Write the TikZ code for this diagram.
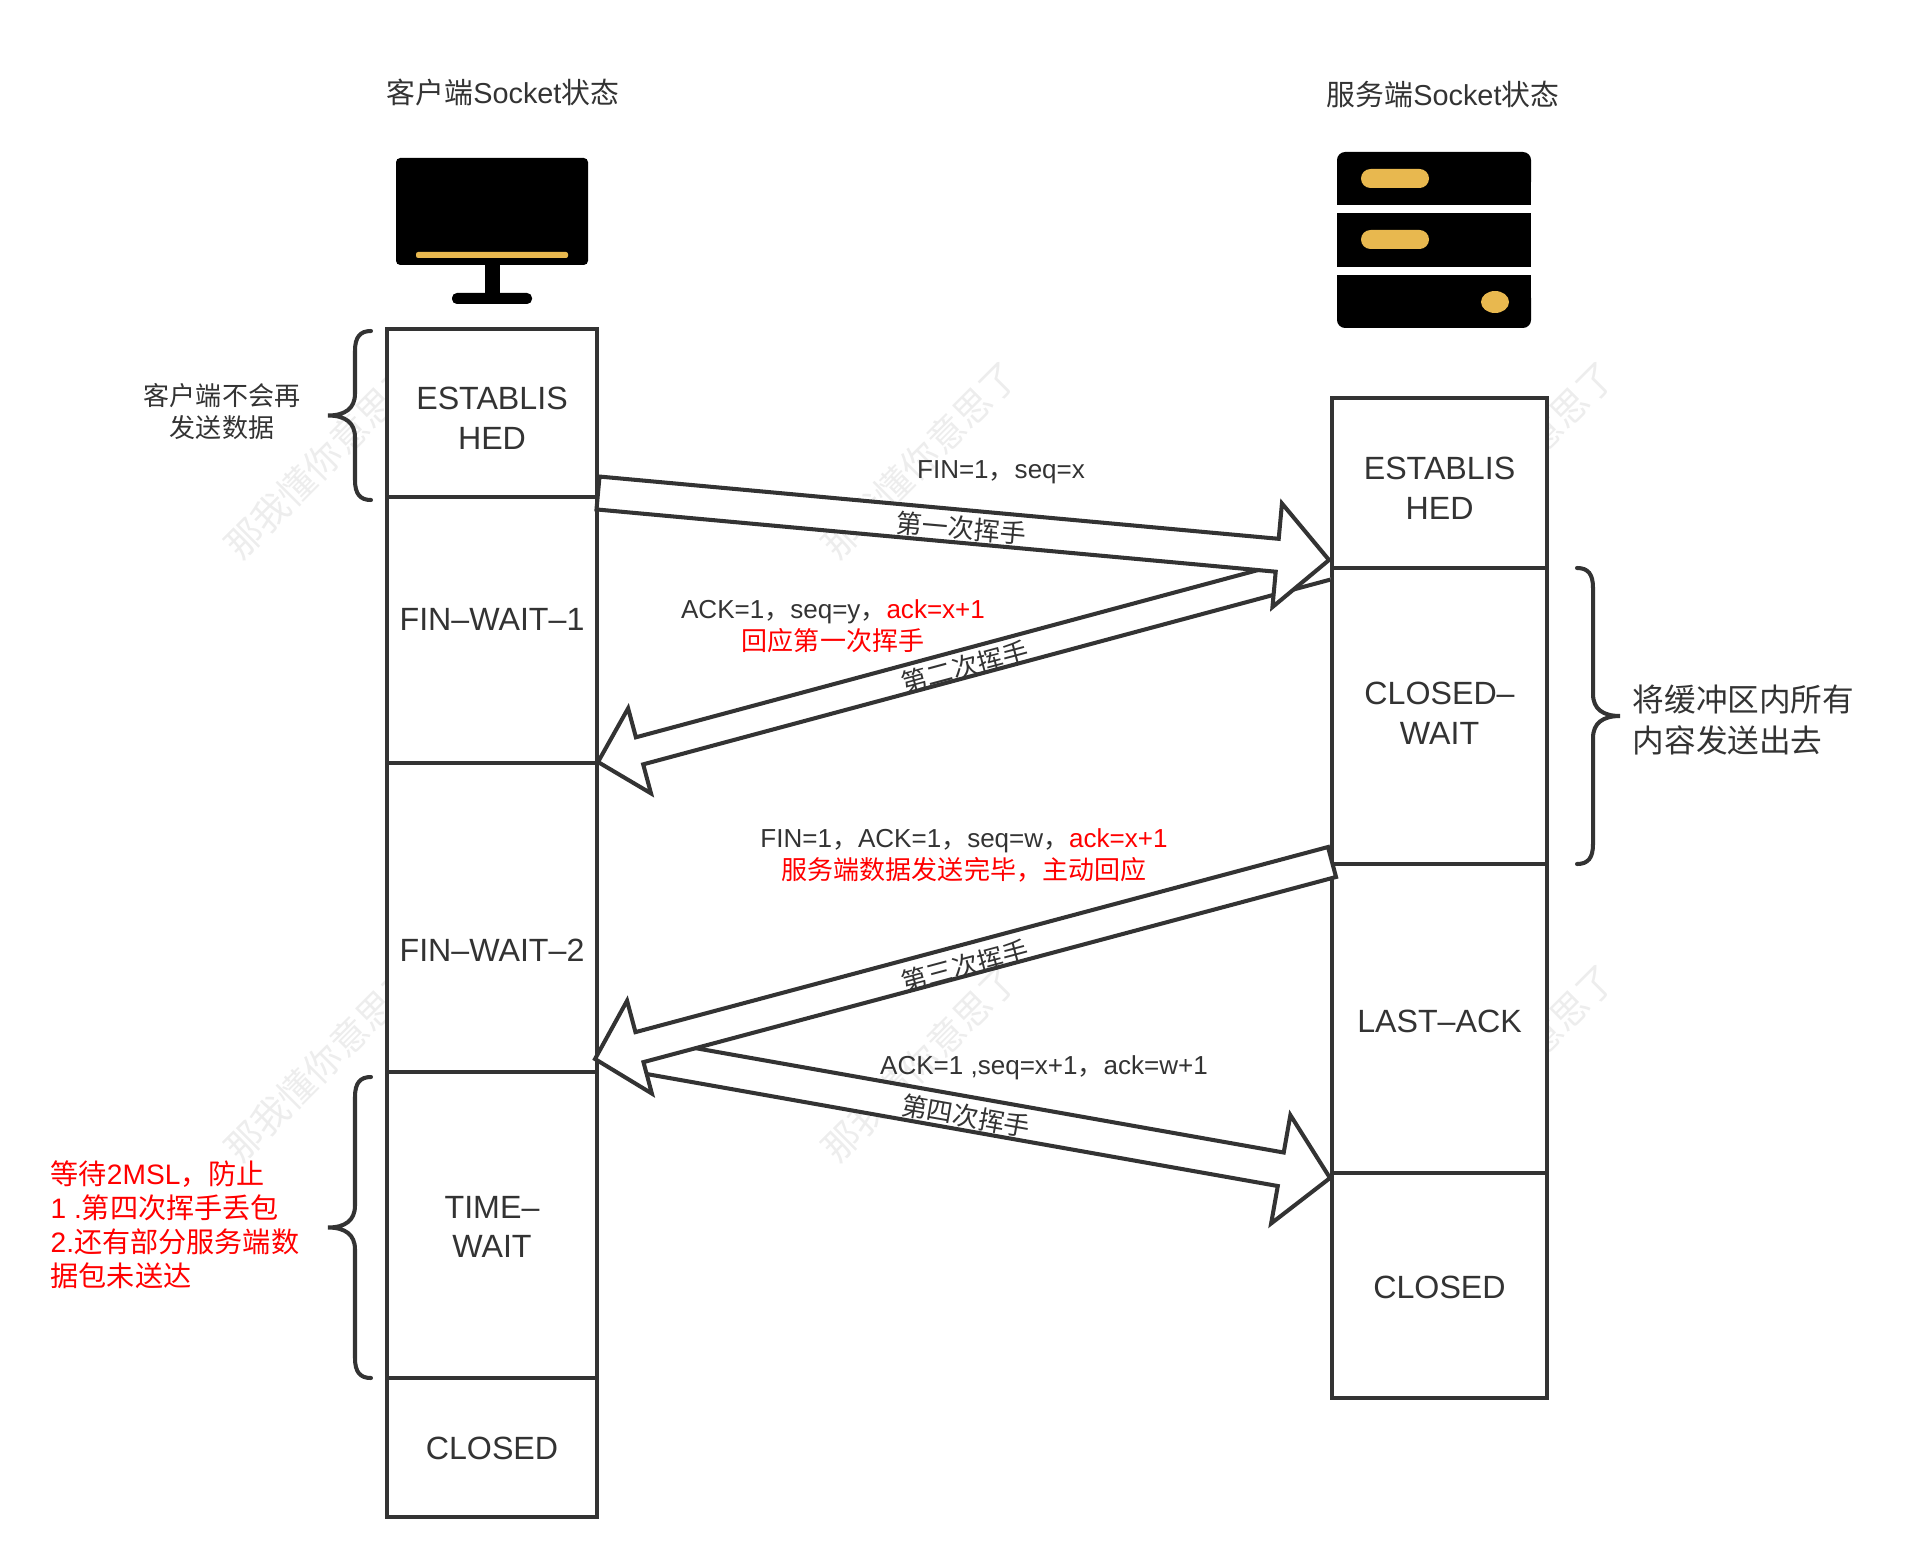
\documentclass[tikz,border=0pt]{standalone}
\usepackage{fontspec}
\setmainfont{Liberation Sans}
\newfontfamily\cjk{Noto Sans CJK SC}
\usetikzlibrary{calc, positioning}
\definecolor{ink}{HTML}{333333}
\definecolor{amber}{HTML}{E8B84F}
\newcommand{\zh}[1]{{\cjk #1}}
\newcommand{\fsize}[2]{\fontsize{#1}{#2}\selectfont}
\newcommand{\hollowarrow}[6]{
  \coordinate (base) at ($(#2)!#5!(#1)$);
  \draw[hollow] ($(#1)!#3!90:(#2)$) -- ($(base)!#3!90:(#2)$) -- ($(base)!#4!90:(#2)$) -- (#2)
    -- ($(base)!#4!-90:(#2)$) -- ($(base)!#3!-90:(#2)$) -- ($(#1)!#3!-90:(#2)$) #6;
}
\newcommand{\curly}[4]{
  \draw[curly, shift={(#1,#2)}, xscale=#4] (0,0) .. controls (-11,0) and (-16,6) .. (-16,20)
    -- (-16,#3/2-22) .. controls (-16,#3/2-7) and (-26,#3/2) .. (-43,#3/2)
    .. controls (-26,#3/2) and (-16,#3/2+7) .. (-16,#3/2+22)
    -- (-16,#3-20) .. controls (-16,#3-6) and (-11,#3) .. (0,#3);
}

\begin{document}
\begin{tikzpicture}[
  x=0.01cm, y=-0.01cm,
  node distance=0pt,
  state/.style={rectangle, draw=ink, line width=1.15pt, fill=white, outer sep=0pt, inner sep=0pt},
  lstate/.style={state, minimum width=2.10cm},
  rstate/.style={state, minimum width=2.15cm},
  stext/.style={inner sep=0pt, align=center, text=ink, font=\fsize{9.15}{11.3}},
  hollow/.style={draw=ink, line width=1.15pt, fill=white, line join=miter},
  curly/.style={draw=ink, line width=1.15pt, line cap=round},
  msg/.style={inner sep=0pt, align=center, text=ink, font=\fsize{7.4}{9.1}},
  turn/.style={inner sep=0pt, text=ink, font=\fsize{7.4}{9.1}},
  note/.style={inner sep=0pt, text=ink},
  wmark/.style={inner sep=0pt, rotate=45, text=black!7, font=\fsize{10.5}{12}}
]
\useasboundingbox (0,0) rectangle (1910,1567);

\foreach \wx in {323,920,1517}
  \foreach \wy in {460,1063}
    \node[wmark] (wm\wx\wy) at (\wx,\wy) {\zh{那我懂你意思了}};

\node[note, font=\fsize{8.2}{10}] (ctitle) at (503,93) {\zh{客户端}Socket\zh{状态}};
\node[note, font=\fsize{8.2}{10}] (stitle) at (1443,95) {\zh{服务端}Socket\zh{状态}};

% monitor
\fill[black, rounded corners=1.2pt] (396,158) rectangle (588,265);
\fill[amber, rounded corners=0.6pt] (416,252) rectangle (568,258);
\fill[black] (485,265) rectangle (500,295);
\fill[black, rounded corners=1.4pt] (452,293) rectangle (532,304);

% server
\fill[black, rounded corners=2.3pt] (1337,152) rectangle (1531,190);
\fill[black] (1337,170) rectangle (1531,205);
\fill[black] (1337,213) rectangle (1531,267);
\fill[black, rounded corners=2.3pt] (1337,290) rectangle (1531,328);
\fill[black] (1337,275) rectangle (1531,310);
\fill[amber, rounded corners=2.7pt] (1361,169) rectangle (1429,188);
\fill[amber, rounded corners=2.7pt] (1361,230) rectangle (1429,249);
\fill[amber] (1495,302) ellipse (14 and 11);

\node[lstate, minimum height=1.68cm, anchor=north, label={[stext, yshift=-.05cm]center:{ESTABLIS\\HED}}] (cest) at (492,329) {};
\node[lstate, minimum height=2.66cm, below=of cest, label={[stext, yshift=.11cm]center:FIN–WAIT–1}] (cfin1) {};
\node[lstate, minimum height=3.09cm, below=of cfin1, label={[stext, yshift=-.32cm]center:FIN–WAIT–2}] (cfin2) {};
\node[lstate, minimum height=3.05cm, below=of cfin2, label={[stext, yshift=-.02cm]center:{TIME–\\WAIT}}] (ctime) {};
\node[lstate, minimum height=1.39cm, below=of ctime, label={[stext, yshift=-.01cm]center:CLOSED}] (cclosed) {};

\node[rstate, minimum height=1.70cm, anchor=north, label={[stext, yshift=-.05cm]center:{ESTABLIS\\HED}}] (sest) at (1439.5,398) {};
\node[rstate, minimum height=2.96cm, below=of sest, label={[stext, yshift=.03cm]center:{CLOSED–\\WAIT}}] (swait) {};
\node[rstate, minimum height=3.09cm, below=of swait, label={[stext, yshift=-.03cm]center:LAST–ACK}] (slast) {};
\node[rstate, minimum height=2.24cm, below=of slast, label={[stext, yshift=-.02cm]center:CLOSED}] (sclosed) {};

\curly{371}{331}{169}{1}
\curly{371}{1077}{301}{1}
\curly{1577}{568}{296}{-1}

\node[note, align=center, font=\fsize{7.4}{9.1}] (cnote) at (222,412) {\zh{客户端不会再}\\\zh{发送数据}};
\node[note, align=left, anchor=west, font=\fsize{9}{11.6}] (snote) at (1632,720) {\zh{将缓冲区内所有}\\\zh{内容发送出去}};
\node[note, align=left, anchor=west, text=red, font=\fsize{8}{9.7}] (wnote) at (50,1225) {\zh{等待}2MSL\zh{，防止}\\1 .\zh{第四次挥手丢包}\\2.\zh{还有部分服务端数}\\\zh{据包未送达}};

\coordinate (tail2) at (1327,566);
\coordinate (tip2) at (598,762);
\hollowarrow{tail2}{tip2}{.14cm}{.44cm}{.43cm}{}
\coordinate (tail1) at (598,493);
\coordinate (tip1) at (1329,560);
\hollowarrow{tail1}{tip1}{.165cm}{.52cm}{.52cm}{-- cycle}
\coordinate (tail4) at (620,1052);
\coordinate (tip4) at (1330,1178);
\hollowarrow{tail4}{tip4}{.17cm}{.55cm}{.50cm}{}
\coordinate (tail3) at (1332,862);
\coordinate (tip3) at (595,1059);
\hollowarrow{tail3}{tip3}{.155cm}{.48cm}{.46cm}{-- cycle}

\node[turn, rotate=-5] (turn1) at (961,528) {\zh{第一次挥手}};
\node[turn, rotate=15] (turn2) at (965,667) {\zh{第二次挥手}};
\node[turn, rotate=15] (turn3) at (965,966) {\zh{第三次挥手}};
\node[turn, rotate=-10] (turn4) at (966,1116) {\zh{第四次挥手}};

\node[msg] (msg1) at (1001,472) {FIN=1\zh{，}seq=x};
\node[msg] (msg2) at (833,626) {ACK=1\zh{，}seq=y\zh{，}\textcolor{red}{ack=x+1}\\\textcolor{red}{\zh{回应第一次挥手}}};
\node[msg] (msg3) at (964,855) {FIN=1\zh{，}ACK=1\zh{，}seq=w\zh{，}\textcolor{red}{ack=x+1}\\\textcolor{red}{\zh{服务端数据发送完毕，主动回应}}};
\node[msg] (msg4) at (1044,1068) {ACK=1 ,seq=x+1\zh{，}ack=w+1};
\end{tikzpicture}
\end{document}
